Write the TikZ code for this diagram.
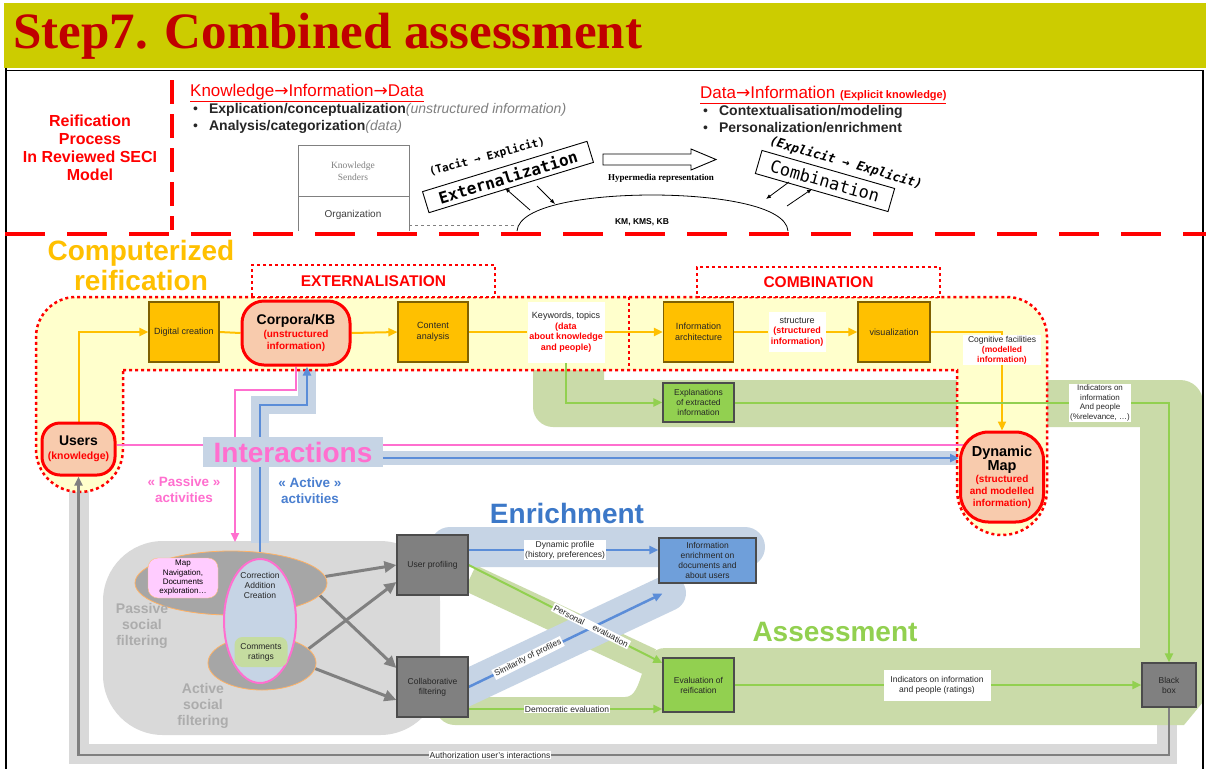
\documentclass[tikz,border=0pt]{standalone}
\usepackage{fontspec}
\setmainfont{Liberation Sans}
\newfontfamily\serifF{Liberation Serif}
\newfontfamily\monoF{DejaVu Sans Mono}
\newfontfamily\djv{DejaVu Sans}
\usetikzlibrary{arrows.meta,shapes.geometric,calc}
\newcommand{\myfs}[2]{\fontsize{#1}{#2}\selectfont}
\newcommand{\rb}[1]{\textcolor{red}{\textbf{#1}}}
\definecolor{hdr}{HTML}{CCCC00}
\definecolor{ttl}{HTML}{C00000}
\definecolor{org}{HTML}{FFC000}
\definecolor{orgdk}{HTML}{7F6000}
\definecolor{ylw}{HTML}{FFFFCC}
\definecolor{peach}{HTML}{F8CBAD}
\definecolor{gbox}{HTML}{808080}
\definecolor{grn}{HTML}{92D050}
\definecolor{grnband}{HTML}{CADBA9}
\definecolor{grnlt}{HTML}{C5DCA0}
\definecolor{bluband}{HTML}{C6D4E5}
\definecolor{blubox}{HTML}{6F9FDA}
\definecolor{bluln}{HTML}{5B8DD8}
\definecolor{pnk}{HTML}{FF6FCF}
\definecolor{pinkbox}{HTML}{FFCCFF}
\definecolor{graybg}{HTML}{D9D9D9}
\definecolor{dkgray}{HTML}{A6A6A6}
\definecolor{enr}{HTML}{3C78C8}
\definecolor{actblue}{HTML}{4A7FD0}
\definecolor{txtgray}{HTML}{ACACAC}
\definecolor{txt}{HTML}{262626}
\pgfdeclarelayer{bands}
\pgfdeclarelayer{lines}
\pgfsetlayers{bands,lines,main}
\begin{document}
\begin{tikzpicture}[x=1pt,y=-1pt,
  arw/.style={-{Triangle[length=9pt,width=8pt]}},
  oline/.style={draw=org, line width=2pt},
  garr/.style={draw=grn, line width=2pt},
  barr/.style={draw=bluln, line width=2.5pt},
  parr/.style={draw=pnk, line width=2pt},
  grarr/.style={draw=gbox, line width=3pt, -{Triangle[length=12pt,width=11pt]}},
  obox/.style={draw=orgdk, line width=1.2pt, fill=org, minimum width=70pt, minimum height=60pt, align=center, font=\myfs{9}{10.5}, text=txt, inner sep=1pt},
  gbx/.style={draw=black!70, line width=1.2pt, fill=gbox, minimum width=71pt, minimum height=60pt, align=center, font=\myfs{8.5}{10}, text=black!85, inner sep=1pt},
  grbx/.style={draw=black!70, line width=1.2pt, fill=grn, align=center, font=\myfs{8.5}{10}, text=txt, inner sep=1pt},
  rnd/.style={draw=red, line width=3pt, fill=peach, align=center, inner sep=1pt},
  lbl/.style={fill=white, align=center, font=\myfs{8.5}{10}, text=txt, inner sep=1.5pt},
  secbox/.style={draw=red, line width=2.5pt, dash pattern=on 3pt off 3pt, fill=white, text=red, font=\bfseries\myfs{15.5}{18}},
  big/.style={font=\bfseries\myfs{28}{30}, align=center},
  dotred/.style={draw=red, line width=2.5pt, dash pattern=on 3pt off 3pt},
  secil/.style={line width=0.8pt, -{Latex[length=5pt,width=4pt]}}
]
\useasboundingbox (0,0) rectangle (1206,769);

% ---------------- header ----------------
\fill[hdr] (4,3) rectangle (1206,68);
\node[anchor=west, text=ttl, font=\serifF\bfseries\myfs{51}{55}, inner sep=0] (title) at (13,36) {Step7. Combined assessment};
\draw[line width=1.5pt] (6,68) -- (6,769);
\draw[line width=1.5pt] (1203,70) -- (1203,769);
\draw[line width=1pt] (6,70) -- (1203,70);

% ---------------- top section ----------------
\node[text=red, font=\bfseries\myfs{16}{18}, align=center] (reif) at (90,148) {Reification\\Process\\In Reviewed SECI\\Model};
\draw[red, line width=4pt, dash pattern=on 24pt off 10pt] (172,80) -- (172,230);
\draw[red, line width=4pt, dash pattern=on 40pt off 22pt] (5,234) -- (1206,234);

\node[anchor=west, text=red, font=\myfs{17}{20}, inner sep=0] (kid) at (190,93) {\underline{Knowledge{\djv →}Information{\djv →}Data}};
\node[anchor=west, font=\myfs{14}{17}, text=txt, inner sep=0] (b1) at (193,110) {\textbullet\hspace{11pt}\textbf{Explication/conceptualization}\textcolor{gray}{\textit{(unstructured information)}}};
\node[anchor=west, font=\myfs{14}{17}, text=txt, inner sep=0] (b2) at (193,127) {\textbullet\hspace{11pt}\textbf{Analysis/categorization}\textcolor{gray}{\textit{(data)}}};
\node[anchor=west, text=red, font=\myfs{17}{20}, inner sep=0] (dio) at (700,95) {\underline{Data{\djv →}Information {\myfs{11}{13}\textbf{(Explicit knowledge)}}}};
\node[anchor=west, font=\myfs{14}{17}, text=txt, inner sep=0] (b3) at (703,112) {\textbullet\hspace{11pt}\textbf{Contextualisation/modeling}};
\node[anchor=west, font=\myfs{14}{17}, text=txt, inner sep=0] (b4) at (703,128) {\textbullet\hspace{11pt}\textbf{Personalization/enrichment}};

% SECI picture
\draw[gray, line width=0.8pt] (298,231) -- (298,145) -- (409,145) -- (409,231);
\draw[gray, line width=0.8pt] (298,196) -- (409,196);
\node[font=\serifF\myfs{9.5}{12}, text=gray, align=center] (ks) at (353,171) {Knowledge\\Senders};
\node[font=\myfs{10}{12}, text=darkgray] (orgn) at (353,215) {Organization};
\draw[gray, dashed, line width=0.8pt] (409,225) -- (517,225);
\draw[line width=0.8pt] (517,231) .. controls (519,205) and (590,195) .. (652,195) .. controls (714,195) and (786,205) .. (788,231);
\node[font=\bfseries\myfs{8.5}{10}] (km) at (642,222) {KM, KMS, KB};
\node[font=\serifF\bfseries\myfs{9}{11}] (hyp) at (661,178) {Hypermedia representation};
\draw[line width=0.9pt, fill=white] (603,154) -- (691,154) -- (691,149) -- (716,159.5) -- (691,170) -- (691,165) -- (603,165) -- cycle;
\node[draw, line width=0.9pt, rotate=17, minimum width=172pt, minimum height=22pt, inner sep=0, font=\monoF\bfseries\myfs{16}{18}] (ext) at (508,177) {Externalization};
\node[rotate=15, font=\monoF\bfseries\myfs{11}{13}, inner sep=0] (tac) at (487,157) {(Tacit → Explicit)};
\draw[secil] (530,210) -- (505,188);
\draw[secil] (537,186) -- (555,204);
\node[draw, line width=0.9pt, rotate=-16, minimum width=138pt, minimum height=24pt, inner sep=0, font=\monoF\myfs{17}{19}] (comb) at (825,181) {Combination};
\node[rotate=-16, font=\monoF\bfseries\itshape\myfs{12.5}{14}, inner sep=0] (ee) at (846,163) {(Explicit → Explicit)};
\draw[secil] (789,182) -- (766,199);
\draw[secil] (787,206) -- (812,189);

% ---------------- lower section: nodes ----------------
\node[text=org, big] (compr) at (141,265) {Computerized\\reification};
\node[secbox, minimum width=243pt, minimum height=32pt] (extbox) at (373.5,281) {EXTERNALISATION};
\node[secbox, minimum width=243pt, minimum height=30pt] (combbox) at (818.5,282) {COMBINATION};

\node[obox] (digital) at (184,332) {Digital creation};
\node[rnd, rounded corners=22pt, minimum width=108pt, minimum height=64pt, font=\myfs{10}{12}] (corpora) at (296,333) {{\myfs{14}{16}\textbf{Corpora/KB}}\\[1pt]\rb{(unstructured}\\\rb{information)}};
\node[obox] (content) at (433,332) {Content\\analysis};
\node[lbl, minimum width=77pt, minimum height=61pt, font=\myfs{9}{10.5}, inner sep=1pt] (kw) at (566,332) {Keywords, topics\\\rb{(data}\\\rb{about knowledge}\\\rb{and people)}};
\node[obox] (infarch) at (698.5,332) {Information\\architecture};
\node[lbl, minimum width=57pt, minimum height=40pt, font=\myfs{9}{10.5}, inner sep=1pt] (struc) at (797,332) {structure\\\rb{(structured}\\\rb{information)}};
\node[obox, minimum width=72pt] (visu) at (894,332) {visualization};
\node[lbl, minimum width=78pt, minimum height=30pt, inner sep=1pt] (cog) at (1002,350) {Cognitive facilities\\\rb{(modelled}\\\rb{information)}};
\node[rnd, rounded corners=28pt, minimum width=83pt, minimum height=90pt, font=\myfs{10}{12}] (dynmap) at (1002,477) {{\myfs{14.5}{17}\textbf{Dynamic}}\\{\myfs{14.5}{17}\textbf{Map}}\\\rb{(structured}\\\rb{and modelled}\\\rb{information)}};
\node[rnd, rounded corners=18pt, minimum width=73pt, minimum height=52pt, font=\myfs{10.5}{12}] (users) at (78.5,449) {{\myfs{14}{16}\textbf{Users}}\\[2pt]\rb{(knowledge)}};

\node[grbx, minimum width=71pt, minimum height=39pt] (explan) at (698.5,402.5) {Explanations\\of extracted\\information};
\node[lbl, font=\myfs{8}{9.8}, inner sep=1pt] (ind1) at (1100,403) {Indicators on\\information\\And people\\(\%relevance, …)};

\node[fill=bluband, minimum width=180pt, minimum height=30pt, text=pnk, font=\bfseries\myfs{28}{30}, inner sep=0] (inter) at (293,452) {Interactions};
\node[text=pnk, font=\bfseries\myfs{13.5}{16}, align=center] (pasl) at (184,490) {« Passive »\\activities};
\node[text=actblue, font=\bfseries\myfs{13.5}{16}, align=center] (actl) at (310,491) {« Active »\\activities};

\node[ellipse, fill=dkgray, draw=orange!60, line width=0.8pt, minimum width=192pt, minimum height=64pt] (pell) at (231,583) {};
\node[ellipse, fill=dkgray, draw=orange!60, line width=0.8pt, minimum width=108pt, minimum height=54pt] (aell) at (262,663) {};
\node[draw=orange!50, fill=pinkbox, rounded corners=10pt, minimum width=70pt, minimum height=40pt, align=center, font=\myfs{8}{9.3}, inner sep=1pt] (mapnav) at (183,578) {Map\\Navigation,\\Documents\\exploration…};
\node[ellipse, fill=bluband, draw=pnk, line width=2pt, minimum width=72pt, minimum height=124pt] (corr) at (260,621) {};
\node[fill=grnlt, rounded corners=8pt, minimum width=53pt, minimum height=30pt, align=center, font=\myfs{8.5}{10}, text=txt, inner sep=1pt] (comm) at (261,652) {Comments\\ratings};
\node[align=center, font=\myfs{8.5}{10}, text=txt, inner sep=0] (corrtxt) at (260,585) {Correction\\Addition\\Creation};
\node[text=txtgray, font=\bfseries\myfs{14}{16}, align=center] (psf) at (142,626) {Passive\\social\\filtering};
\node[text=txtgray, font=\bfseries\myfs{14}{16}, align=center] (asf) at (203,706) {Active\\social\\filtering};

\node[gbx] (userprof) at (432.5,565) {User profiling};
\node[gbx] (collab) at (432.5,687) {Collaborative\\filtering};
\node[draw=black!70, line width=1.2pt, fill=blubox, minimum width=97pt, minimum height=45pt, align=center, font=\myfs{8.5}{9.8}, text=txt, inner sep=1pt] (enrich) at (707.5,560.5) {Information\\enrichment on\\documents and\\about users};
\node[grbx, minimum width=71pt, minimum height=54pt] (evalr) at (698.5,685) {Evaluation of\\reification};
\node[gbx, minimum width=54pt, minimum height=44pt] (bbox) at (1169,685) {Black\\box};

\node[text=enr, big] (enrl) at (567,513) {Enrichment};
\node[text=grn, big] (assl) at (835,632) {Assessment};

\node[lbl] (dprof) at (565,550) {Dynamic profile\\(history, preferences)};
\node[lbl, rotate=26.5] (simp) at (528,658) {Similarity of profiles};
\node[lbl, rotate=-26.8] (pers) at (591,626) {Personal\hspace{10pt}evaluation};
\node[lbl, inner sep=1pt] (demo) at (567,709) {Democratic evaluation};
\node[lbl, minimum width=107pt, minimum height=31pt] (ind2) at (937,685) {Indicators on information\\and people (ratings)};
\node[lbl, inner sep=1pt] (auth) at (490,755) {Authorization user's interactions};

% named coordinates
\coordinate (upo) at ([yshift=15pt]userprof.east);
\coordinate (cbo) at ([yshift=-22pt]collab.east);
\coordinate (evin) at ([yshift=22pt]evalr.west);
\coordinate (enin) at ([shift={(4pt,-10pt)}]enrich.south west);
\coordinate (ap1) at (260,405);
\coordinate (bh) at (260,458);
\coordinate (pk) at ([yshift=4pt]users.east);
\coordinate (pp1) at (235,390);
\coordinate (pasin) at (235,542);
\coordinate (fb) at (0,755);

% ---------------- bands ----------------
\begin{pgfonlayer}{bands}
\fill[white] (0,0) rectangle (1206,769);
\draw[graybg, line width=20pt] (79,480) -- (79,754) -- (1167,754) -- (1167,700);
\fill[grnband] (533,370) -- (604,370) -- (604,380) -- (1180,380) .. controls (1193,380) and (1203,390) .. (1203,403) -- (1203,702) -- (1184,725) -- (455,725) .. controls (444,725) and (435,716) .. (435,705) -- (435,697) -- (625,697) .. controls (645,697) and (638,648) .. (665,648) -- (1140,648) -- (1140,427) -- (553,427) .. controls (542,427) and (533,418) .. (533,407) -- cycle;
\draw[grnband, line width=28pt] (470,578) -- (650,662);
\fill[bluband, rounded corners=20pt] (430,527) rectangle (765,567);
\draw[bluband, line width=36pt, line cap=round] (462,690) -- (668,593);
\fill[graybg, rounded corners=60pt] (103,541) rectangle (440,735);
\draw[bluband, line width=18pt] (260,543) -- (260,405) -- (307,405) -- (307,370);
\draw[bluband, line width=14pt] (383,458) -- (962,458);
\path[fill=ylw, dotred] (123,370) -- (957,370) -- (957,490) .. controls (957,515) and (977,535) .. (1002,535) .. controls (1027,535) and (1047,515) .. (1047,490) -- (1047,337) .. controls (1047,315) and (1029,297) .. (1007,297) -- (76,297) .. controls (54,297) and (36,315) .. (36,337) -- (36,449) .. controls (36,473) and (55,492) .. (79.5,492) .. controls (104,492) and (123,473) .. (123,449) -- cycle;
\draw[dotred] (629,297) -- (629,370);
\end{pgfonlayer}

% ---------------- connectors ----------------
\begin{pgfonlayer}{lines}
\draw[oline, arw] (users.north) |- (digital.west);
\draw[oline] (digital.east) -- (corpora.west);
\draw[oline, arw] (corpora.east) -- (content.west);
\draw[oline] (content.east) -- (kw.west);
\draw[oline, arw] (kw.east) -- (infarch.west);
\draw[oline] (infarch.east) -- (struc.west);
\draw[oline, arw] (struc.east) -- (visu.west);
\draw[oline] (visu.east) -| (cog.north);
\draw[oline, arw] (cog.south) -- (dynmap.north);

\draw[garr, arw] (kw.south) |- (explan.west);
\draw[garr, arw] (explan.east) -| (bbox.north);
\draw[garr, arw] (userprof.east) -- (evin);
\draw[garr, arw] (cbo) -- (cbo -| evalr.west);
\draw[garr, arw] (evalr.east) -- (bbox.west);

\draw[barr, arw] (upo) -- (upo -| enrich.west);
\draw[barr, arw] (collab.east) -- (enin);
\draw[barr, arw] (corr.north) -- (ap1) -| ([xshift=11pt]corpora.south);
\draw[barr, arw] (bh) -- (bh -| dynmap.west);

\draw[parr] (pk) -- (pk -| dynmap.center);
\draw[parr, arw] (corpora.south) |- (pp1) -- (pasin);

\draw[grarr] (pell.4) -- (userprof.west);
\draw[grarr] (pell.-8) -- ([yshift=19pt]collab.west);
\draw[grarr] (aell.17) -- ([yshift=-17pt]userprof.west);
\draw[grarr] (aell.-6) -- ([yshift=-13pt]collab.west);

\draw[draw=gbox, line width=2.5pt, arw] (bbox.south) -- (bbox.south |- fb) -- (fb -| users.south) -- (users.south);
\end{pgfonlayer}
\end{tikzpicture}
\end{document}
